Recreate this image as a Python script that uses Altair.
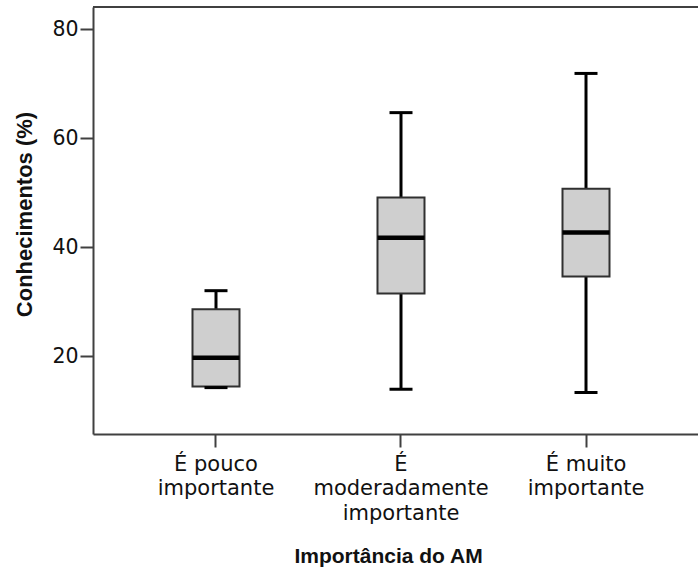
import json
import altair as alt
import pandas as pd

# ---- data ----
categories = ["É pouco importante", "É moderadamente importante", "É muito importante"]
label_lines = [["É pouco", "importante"], ["É", "moderadamente", "importante"], ["É muito", "importante"]]
lower = [14.2, 13.9, 13.3]
q1 = [14.4, 31.5, 34.6]
median = [19.7, 41.7, 42.7]
q3 = [28.6, 49.1, 50.7]
upper = [32.0, 64.7, 71.9]
y_ticks = [20, 40, 60, 80]

df = pd.DataFrame({
    "cat": categories,
    "lower": lower,
    "q1": q1,
    "median": median,
    "q3": q3,
    "upper": upper,
})

expr = ""
for c, lines in zip(categories, label_lines):
    expr += f"datum.value == {json.dumps(c, ensure_ascii=False)} ? {json.dumps(lines, ensure_ascii=False)} : "
expr += "datum.value"

AXIS_COL = "#404040"
TEXT_COL = "#111111"

x_enc = alt.X(
    "cat:N",
    sort=categories,
    scale=alt.Scale(paddingInner=0, paddingOuter=0.1351, align=0.61),
    axis=alt.Axis(
        title="Importância do AM",
        labelAngle=0,
        labelExpr=expr,
        labelFont="DejaVu Sans",
        labelFontSize=21,
        labelLineHeight=24.5,
        labelColor=TEXT_COL,
        labelPadding=6,
        labelLimit=400,
        labelBaseline="top",
        tickSize=13,
        tickWidth=2,
        tickColor=AXIS_COL,
        domainColor=AXIS_COL,
        domainWidth=2,
        titleFont="Liberation Sans",
        titleFontSize=21,
        titleFontWeight="bold",
        titleColor=TEXT_COL,
        titleX=295,
        titleY=128,
        titleBaseline="alphabetic",
        titleAnchor="start",
        titleAlign="center",
        grid=False,
    ),
)

y_scale = alt.Scale(domain=[5.68, 84.1], nice=False, zero=False)
y_axis = alt.Axis(
    title="Conhecimentos (%)",
    values=y_ticks,
    labelFont="DejaVu Sans",
    labelFontSize=20.5,
    labelColor=TEXT_COL,
    labelPadding=2,
    tickSize=13,
    tickWidth=2,
    tickColor=AXIS_COL,
    domainColor=AXIS_COL,
    domainWidth=2,
    titleFont="Liberation Sans",
    titleFontSize=22,
    titleFontWeight="bold",
    titleColor=TEXT_COL,
    titleX=-57,
    titleY=207,
    titleAlign="center",
    titleAngle=270,
    titleBaseline="bottom",
    grid=False,
)


def Y(field):
    return alt.Y(field, scale=y_scale, axis=y_axis)


base = alt.Chart(df).encode(x=x_enc)

whisk_lo = base.mark_rule(color="black", strokeWidth=3, opacity=1).encode(y=Y("lower:Q"), y2="q1:Q")
whisk_hi = base.mark_rule(color="black", strokeWidth=3, opacity=1).encode(y=Y("q3:Q"), y2="upper:Q")
box = base.mark_bar(size=47, color="#cfcfcf", stroke="#303030", strokeWidth=2, opacity=1).encode(
    y=Y("q1:Q"), y2="q3:Q"
)
med = base.mark_tick(size=47, thickness=4.5, color="black", opacity=1).encode(y=Y("median:Q"))
cap_lo = base.mark_tick(size=23, thickness=3, color="black", opacity=1).encode(y=Y("lower:Q"))
cap_hi = base.mark_tick(size=23, thickness=3, color="black", opacity=1).encode(y=Y("upper:Q"))

top_border = alt.Chart(pd.DataFrame({"k": [0]})).mark_rule(
    color=AXIS_COL, strokeWidth=2
).encode(x=alt.value(0), x2=alt.value(605), y=alt.value(0))

chart = (
    alt.layer(whisk_lo, whisk_hi, box, med, cap_lo, cap_hi, top_border)
    .properties(
        width=605,
        height=427,
        padding={"left": 93, "top": 7, "right": 0, "bottom": 136},
        autosize=alt.AutoSizeParams(type="none"),
        background="white",
    )
    .configure_view(strokeWidth=0)
)

chart.save("out.html", embed_options={"renderer": "svg", "actions": False})
